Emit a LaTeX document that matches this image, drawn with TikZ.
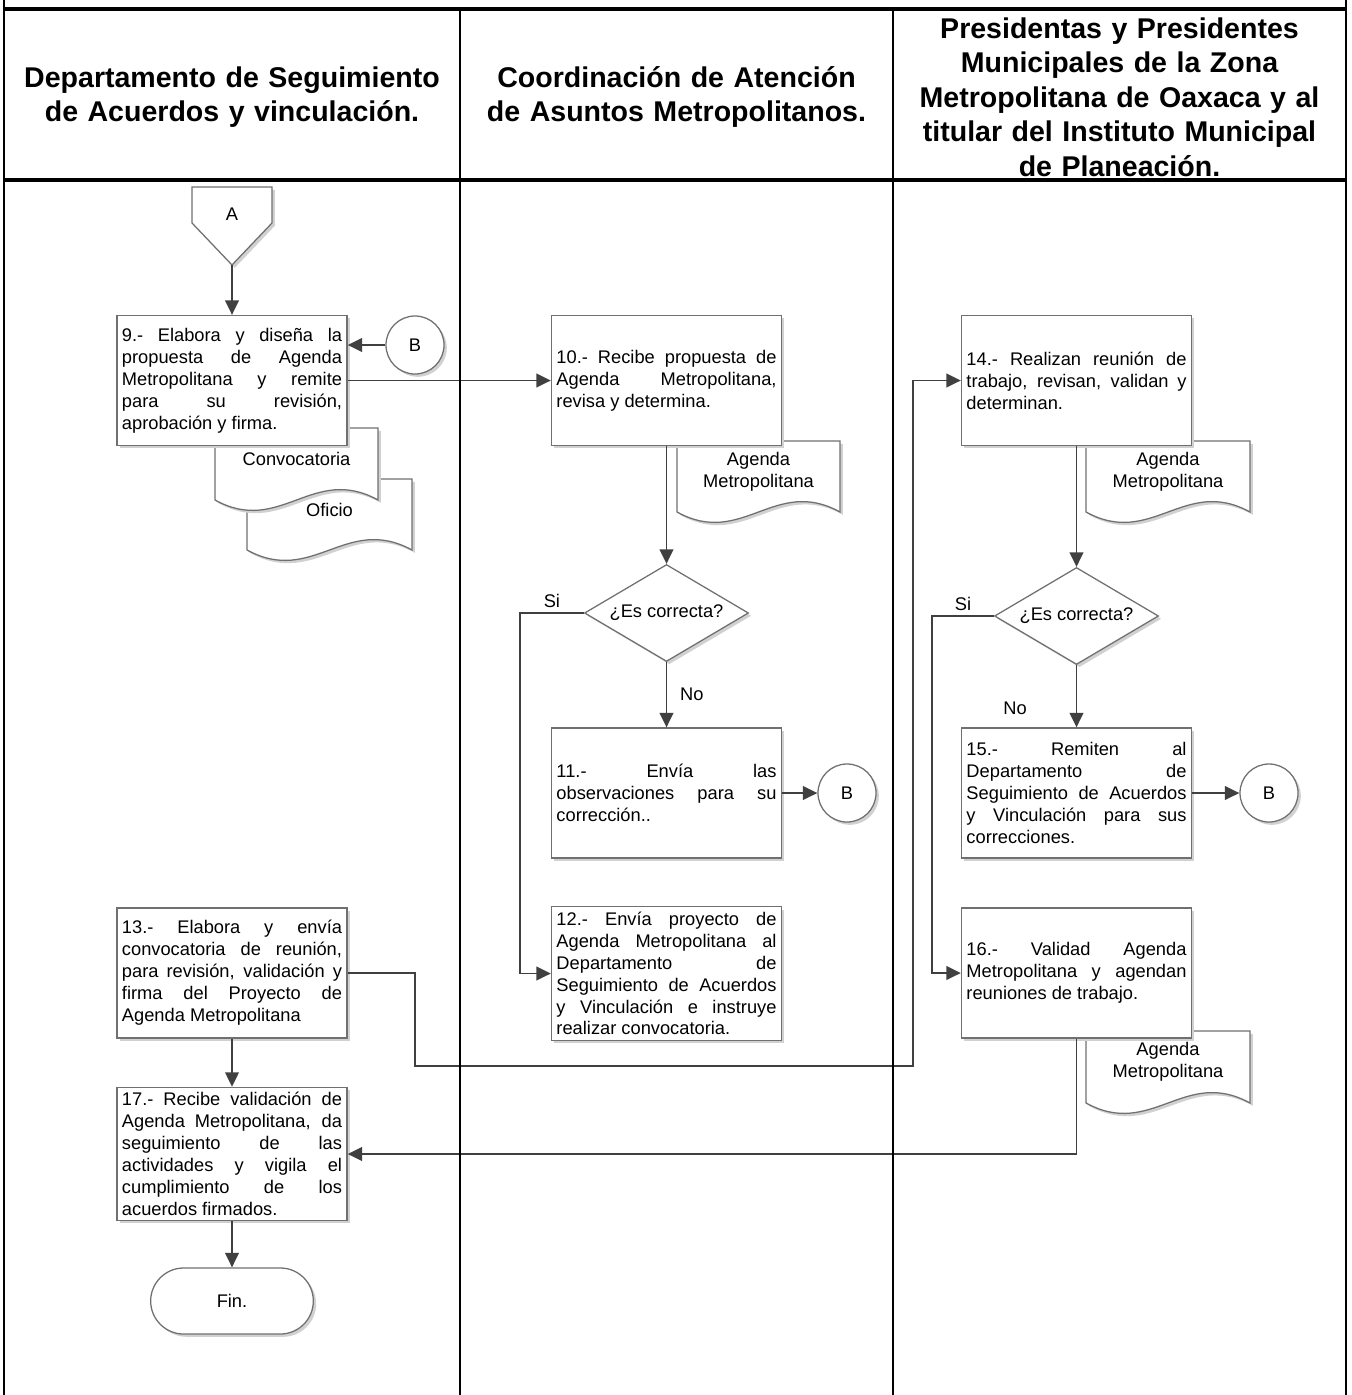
\documentclass[tikz,border=0pt]{standalone}
\usepackage{fontspec}
\setmainfont{Liberation Sans}
\usetikzlibrary{arrows.meta,shapes.geometric,shapes.misc,shadows}
\definecolor{linegray}{HTML}{404040}
\definecolor{boxgray}{HTML}{707070}
\setlength{\parindent}{0pt}
\hbadness=10000
\newcommand{\cuerpo}{\fontsize{13}{15.6}\selectfont}
\newcommand{\titulo}{\fontsize{20.3}{24.5}\selectfont\bfseries}
\newcommand{\documento}[6]{%
	\draw[doc] (#2,#3) -- (#4,#3) -- (#4,#5)
		.. controls ({#2+0.6*(#4-#2)},{#5-36}) and ({#2+0.4*(#4-#2)},{#5+36}) .. (#2,#5) -- cycle;
	\node[doctexto] (#1) at ({(#2+#4)/2},{#3+31}) {#6};}

\begin{document}
\begin{tikzpicture}[x=0.025cm,y=-0.025cm,
		sombra/.style={drop shadow={shadow xshift=0.07cm,shadow yshift=-0.07cm,fill=black!18,opacity=1}},
		marco/.style={black,line width=1.4pt},
		marcogrueso/.style={black,line width=2.4pt},
		encabezado/.style={font=\titulo,align=center,text width=11cm,inner sep=0},
		caja/.style={draw=boxgray,line width=0.9pt,fill=white,text width=5.5cm,
			minimum height=3.25cm,inner sep=0.125cm,align=justify,font=\cuerpo,sombra},
		doc/.style={draw=boxgray,line width=0.9pt,fill=white,sombra},
		doctexto/.style={font=\cuerpo,align=center,inner sep=0},
		conector/.style={circle,draw=boxgray,line width=0.9pt,fill=white,
			minimum size=1.45cm,inner sep=0,font=\cuerpo,sombra},
		decision/.style={diamond,aspect=1.7,draw=boxgray,line width=0.9pt,fill=white,
			minimum width=4.1cm,minimum height=2.425cm,inner sep=0,font=\cuerpo,sombra},
		fin/.style={rounded rectangle,draw=boxgray,line width=0.9pt,fill=white,
			minimum width=4.3cm,minimum height=1.65cm,font=\cuerpo,sombra},
		etiqueta/.style={font=\cuerpo},
		flujo/.style={draw=linegray,line width=1.4pt,-{Triangle[length=0.36cm,width=0.34cm]}}]
	\useasboundingbox (0,0) rectangle (1351,1395);

	\node[encabezado] (h1) at (232,97) {Departamento de Seguimiento\\de Acuerdos y vinculación.};
	\node[encabezado] (h2) at (676.5,97) {Coordinación de Atención\\de Asuntos Metropolitanos.};
	\node[encabezado] (h3) at (1119.5,97) {Presidentas y Presidentes\\Municipales de la Zona\\Metropolitana de Oaxaca y al\\titular del Instituto Municipal\\de Planeación.};

	\draw[doc] (192,187) -- (272,187) -- (272,223) -- (232,265) -- (192,223) -- cycle;
	\node[etiqueta] (A) at (232,214) {A};
	\coordinate (Apunta) at (232,265);

	\documento{oficio}{247}{479}{412}{550}{Oficio}
	\documento{convocatoria}{215}{428}{378}{500}{Convocatoria}
	\documento{agenda1}{677}{441}{840}{512}{Agenda\\Metropolitana}
	\documento{agenda2}{1086}{441}{1250}{512}{Agenda\\Metropolitana}
	\documento{agenda3}{1086}{1031}{1250}{1103}{Agenda\\Metropolitana}

	\node[caja] (b9) at (232,380.5) {9.- Elabora y diseña la\linebreak propuesta de Agenda\linebreak Metropolitana y remite\linebreak para su revisión,\linebreak aprobación y firma.};
	\node[caja] (b10) at (666.5,380.5) {10.- Recibe propuesta de\linebreak Agenda Metropolitana,\linebreak revisa y determina.};
	\node[caja] (b14) at (1076.5,380.5) {14.- Realizan reunión de\linebreak trabajo, revisan, validan y\linebreak determinan.};
	\node[caja] (b11) at (666.5,793) {11.- Envía las\linebreak observaciones para su\linebreak corrección..};
	\node[caja] (b15) at (1076.5,793) {15.- Remiten al\linebreak Departamento de\linebreak Seguimiento de Acuerdos\linebreak y Vinculación para sus\linebreak correcciones.};
	\node[caja] (b12) at (666.5,973.5) {12.- Envía proyecto de\linebreak Agenda Metropolitana al\linebreak Departamento de\linebreak Seguimiento de Acuerdos\linebreak y Vinculación e instruye\linebreak realizar convocatoria.};
	\node[caja] (b13) at (232,973) {13.- Elabora y envía\linebreak convocatoria de reunión,\linebreak para revisión, validación y\linebreak firma del Proyecto de\linebreak Agenda Metropolitana};
	\node[caja] (b16) at (1076.5,973) {16.- Validad Agenda\linebreak Metropolitana y agendan\linebreak reuniones de trabajo.};
	\node[caja] (b17) at (232,1154) {17.- Recibe validación de\linebreak Agenda Metropolitana, da\linebreak seguimiento de las\linebreak actividades y vigila el\linebreak cumplimiento de los\linebreak acuerdos firmados.};

	\node[decision] (d1) at (666.5,613) {¿Es correcta?};
	\node[decision] (d2) at (1076.5,616) {¿Es correcta?};

	\node[conector] (B1) at (415,345) {B};
	\node[conector] (B2) at (847,793) {B};
	\node[conector] (B3) at (1269,793) {B};

	\node[fin] (fin) at (232,1301) {Fin.};

	\coordinate (s1) at (520,613);
	\coordinate (s2) at (932,616);
	\coordinate (j1) at (415,1066);
	\coordinate (j2) at (913,1066);

	\draw[flujo] (Apunta) -- (b9.north);
	\draw[flujo] (B1) -- (B1 -| b9.east);
	\draw[flujo] (b9.east) -- (b10.west);
	\draw[flujo] (b10.south) -- (d1.north);
	\draw[flujo] (d1.west) -- node[etiqueta,above]{Si} (s1) |- (b12.west);
	\draw[flujo] (d1.south) -- node[etiqueta,right=0.2cm]{No} (b11.north);
	\draw[flujo] (b11.east) -- (B2);
	\draw[flujo] (b13.east) -| (j1) -- (j2) |- (b14.west);
	\draw[flujo] (b14.south) -- (d2.north);
	\draw[flujo] (d2.west) -- node[etiqueta,above]{Si} (s2) |- (b16.west);
	\draw[flujo] (d2.south) -- node[etiqueta,pos=0.69,left=1.1cm]{No} (b15.north);
	\draw[flujo] (b15.east) -- (B3);
	\draw[flujo] (b16.south) |- (b17.east);
	\draw[flujo] (b13.south) -- (b17.north);
	\draw[flujo] (b17.south) -- (fin.north);

	\draw[marco] (4,0) -- (4,1395);
	\draw[marco] (1346,0) -- (1346,1395);
	\draw[marco] (460,9) -- (460,1395);
	\draw[marco] (893,9) -- (893,1395);
	\draw[marcogrueso] (4,9) -- (1346,9);
	\draw[marcogrueso] (4,180) -- (1346,180);
\end{tikzpicture}
\end{document}
